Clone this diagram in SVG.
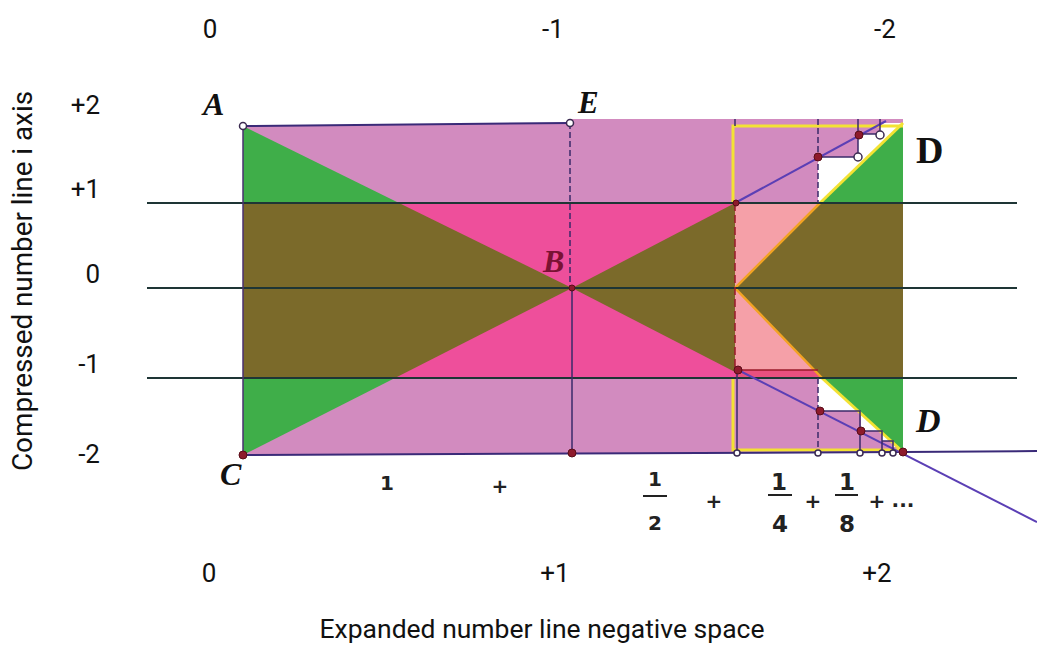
<svg xmlns="http://www.w3.org/2000/svg" width="1037" height="653" viewBox="0 0 1037 653">
<style>
.num{font-family:Roboto,"Liberation Sans",sans-serif;font-size:26px;fill:#111}
.pt{font-family:"Liberation Serif","DejaVu Serif",serif;font-weight:bold;font-style:italic;fill:#111}
.fr{font-family:"DejaVu Sans","Liberation Sans",sans-serif;font-weight:bold;font-size:20px;fill:#222;text-anchor:middle}
.fr2{font-family:"DejaVu Sans","Liberation Sans",sans-serif;font-weight:bold;font-size:23px;fill:#222;text-anchor:middle}
.axis{stroke:#1e3535;stroke-width:2}
.edge{stroke:#3a2a78;stroke-width:2;fill:none}
.blue{stroke:#5b3fb5;stroke-width:2;fill:none}
.step{stroke:#3a2a6a;stroke-width:1.5;fill:none}
.dash{stroke-dasharray:6 3}
.yel{stroke:#f3e233;stroke-width:3;fill:none}
.org{stroke:#f2a324;stroke-width:2.5;fill:none}
.red{fill:#8e1a2c;stroke:#5a0d18;stroke-width:1}
.wc{fill:#fff;stroke:#3a2a50;stroke-width:1.5}
</style>
<rect width="1037" height="653" fill="#fff"/>
<g id="regions">
<polygon points="243,126 570,123 570,119 903,119 903,452 243,455" fill="#d28bbf"/>
<polygon points="243,126 243,203 399,203" fill="#3fae49"/>
<polygon points="243,455 243,378 395,378" fill="#3fae49"/>
<rect x="243" y="203" width="492" height="175" fill="#ee4f9b"/>
<polygon points="243,203 399,203 572,288 395,378 243,378" fill="#7b6a2a"/>
<polygon points="572,288 735,203 735,372" fill="#7b6a2a"/>
<polygon points="735,203 820,203 735,288" fill="#f5a0a8"/>
<polygon points="735,288 814,370 735,370" fill="#f5a0a8"/>
<polygon points="735,370 814,370 822,378 735,378" fill="#e8507f"/>
<polygon points="820,203 903,203 903,378 822,378 735,288" fill="#7b6a2a"/>
<polygon points="818,203 820,203 903,123 884,123 880,126 880,134 858,134 858,157 818,157" fill="#fff"/>
<polygon points="820,203 903,123 903,203" fill="#3fae49"/>
<polygon points="818,378 822,378 903,452 897,447 893,447 893,441 882,441 882,431 861,431 861,411 818,411" fill="#fff"/>
<polygon points="822,378 903,378 903,452" fill="#3fae49"/>
</g>
<g id="connectors">
<polyline class="yel" points="733,203 733,126 903,126"/>
<polyline class="yel" points="733,378 733,450 903,450"/>
<line class="yel" x1="820" y1="203" x2="903" y2="123"/>
<line class="yel" x1="822" y1="378" x2="903" y2="452"/>
<polyline class="org" points="820,203 735,288 822,378"/>
<line class="axis" x1="147" y1="203" x2="1017" y2="203"/>
<line class="axis" x1="147" y1="288" x2="1017" y2="288"/>
<line class="axis" x1="147" y1="378" x2="1017" y2="378"/>
<line class="edge" x1="243" y1="126" x2="570" y2="123"/>
<line x1="243" y1="126" x2="243" y2="455" stroke="#4a3070" stroke-width="1.5"/>
<line class="edge" x1="243" y1="455" x2="903" y2="452"/>
<line class="edge" x1="903" y1="452" x2="1037" y2="451"/>
<line class="blue" x1="738" y1="370" x2="1037" y2="522"/>
<line class="blue" x1="735" y1="203" x2="886" y2="121"/>
<line class="step dash" x1="570" y1="123" x2="570" y2="288"/>
<line class="step" x1="572" y1="288" x2="572" y2="453"/>
<line x1="735" y1="203" x2="735" y2="370" stroke="#9a1a2a" stroke-width="1.5" stroke-dasharray="8 4"/>
<line class="step" x1="737" y1="370" x2="737" y2="452"/>
<line x1="738" y1="370" x2="818" y2="370" stroke="#9a1a2a" stroke-width="1.5"/>
<line class="step dash" x1="818" y1="378" x2="818" y2="452"/>
<polyline class="step" points="820,411 860,411 860,452"/>
<polyline class="step" points="861,431 882,431 882,452"/>
<polyline class="step" points="882,441 893,441 893,452"/>
<line class="step dash" x1="818" y1="119" x2="818" y2="203"/>
<line class="step" x1="818" y1="157" x2="858" y2="157"/>
<line class="step" x1="858" y1="119" x2="858" y2="157"/>
<line class="step" x1="858" y1="134" x2="880" y2="134"/>
<line class="step" x1="880" y1="119" x2="880" y2="134"/>
<line class="step" x1="735" y1="119" x2="735" y2="126"/>
</g>
<g id="points">
<circle class="wc" cx="243" cy="126" r="3.5"/>
<circle class="wc" cx="570" cy="123" r="3.5"/>
<circle class="red" cx="243" cy="455" r="4"/>
<circle class="red" cx="572" cy="453" r="4"/>
<circle class="red" cx="572" cy="288" r="3"/>
<circle class="red" cx="903" cy="452" r="4"/>
<circle class="red" cx="736" cy="203" r="3"/>
<circle class="red" cx="738" cy="370" r="4"/>
<circle class="red" cx="818" cy="157" r="4"/>
<circle class="wc" cx="858" cy="157" r="4"/>
<circle class="red" cx="859" cy="135" r="4"/>
<circle class="wc" cx="880" cy="135" r="4"/>
<circle class="red" cx="820" cy="411" r="4"/>
<circle class="red" cx="861" cy="431" r="4"/>
<circle class="wc" cx="737" cy="453" r="3"/>
<circle class="wc" cx="818" cy="453" r="3"/>
<circle class="wc" cx="860" cy="453" r="3"/>
<circle class="wc" cx="882" cy="453" r="3"/>
<circle class="wc" cx="893" cy="453" r="3"/>
</g>
<g id="point-labels">
<text class="pt" x="203" y="115" font-size="32">A</text>
<text class="pt" x="578" y="113" font-size="31">E</text>
<text class="pt" x="543" y="272" font-size="32" style="fill:#7a1233">B</text>
<text class="pt" x="220" y="485" font-size="32">C</text>
<text x="916" y="163" font-family="Liberation Serif, serif" font-weight="bold" font-size="38" fill="#111">D</text>
<text class="pt" x="916" y="432" font-size="34">D</text>
</g>
<g id="top-scale">
<text class="num" x="210" y="38" text-anchor="middle">0</text>
<text class="num" x="553" y="38" text-anchor="middle">-1</text>
<text class="num" x="885" y="38" text-anchor="middle">-2</text>
</g>
<g id="left-scale">
<text class="num" x="100" y="114" text-anchor="end">+2</text>
<text class="num" x="100" y="198" text-anchor="end">+1</text>
<text class="num" x="100" y="283" text-anchor="end">0</text>
<text class="num" x="100" y="373" text-anchor="end">-1</text>
<text class="num" x="100" y="463" text-anchor="end">-2</text>
<text class="num" transform="translate(32,281) rotate(-90)" text-anchor="middle" style="font-size:27px" textLength="380" lengthAdjust="spacingAndGlyphs">Compressed number line i axis</text>
</g>
<g id="series">
<text class="fr" x="387" y="490">1</text>
<text class="fr" x="500" y="493">+</text>
<text class="fr" x="655" y="486">1</text>
<line x1="643" y1="496" x2="667" y2="496" stroke="#222" stroke-width="2"/>
<text class="fr" x="655" y="530">2</text>
<text class="fr" x="714" y="508">+</text>
<text class="fr2" x="779" y="490">1</text>
<line x1="768" y1="495" x2="792" y2="495" stroke="#222" stroke-width="2"/>
<text class="fr2" x="780" y="532">4</text>
<text class="fr" x="813" y="508">+</text>
<text class="fr2" x="847" y="490">1</text>
<line x1="835" y1="495" x2="858" y2="495" stroke="#222" stroke-width="2"/>
<text class="fr2" x="847" y="532">8</text>
<text class="fr" x="877" y="508">+</text>
<text class="fr" x="903" y="507">...</text>
</g>
<g id="bottom-scale">
<text class="num" x="209" y="582" text-anchor="middle">0</text>
<text class="num" x="555" y="582" text-anchor="middle">+1</text>
<text class="num" x="877" y="582" text-anchor="middle">+2</text>
<text class="num" x="542" y="638" text-anchor="middle" style="font-size:25px" textLength="445" lengthAdjust="spacingAndGlyphs">Expanded number line negative space</text>
</g>
</svg>
